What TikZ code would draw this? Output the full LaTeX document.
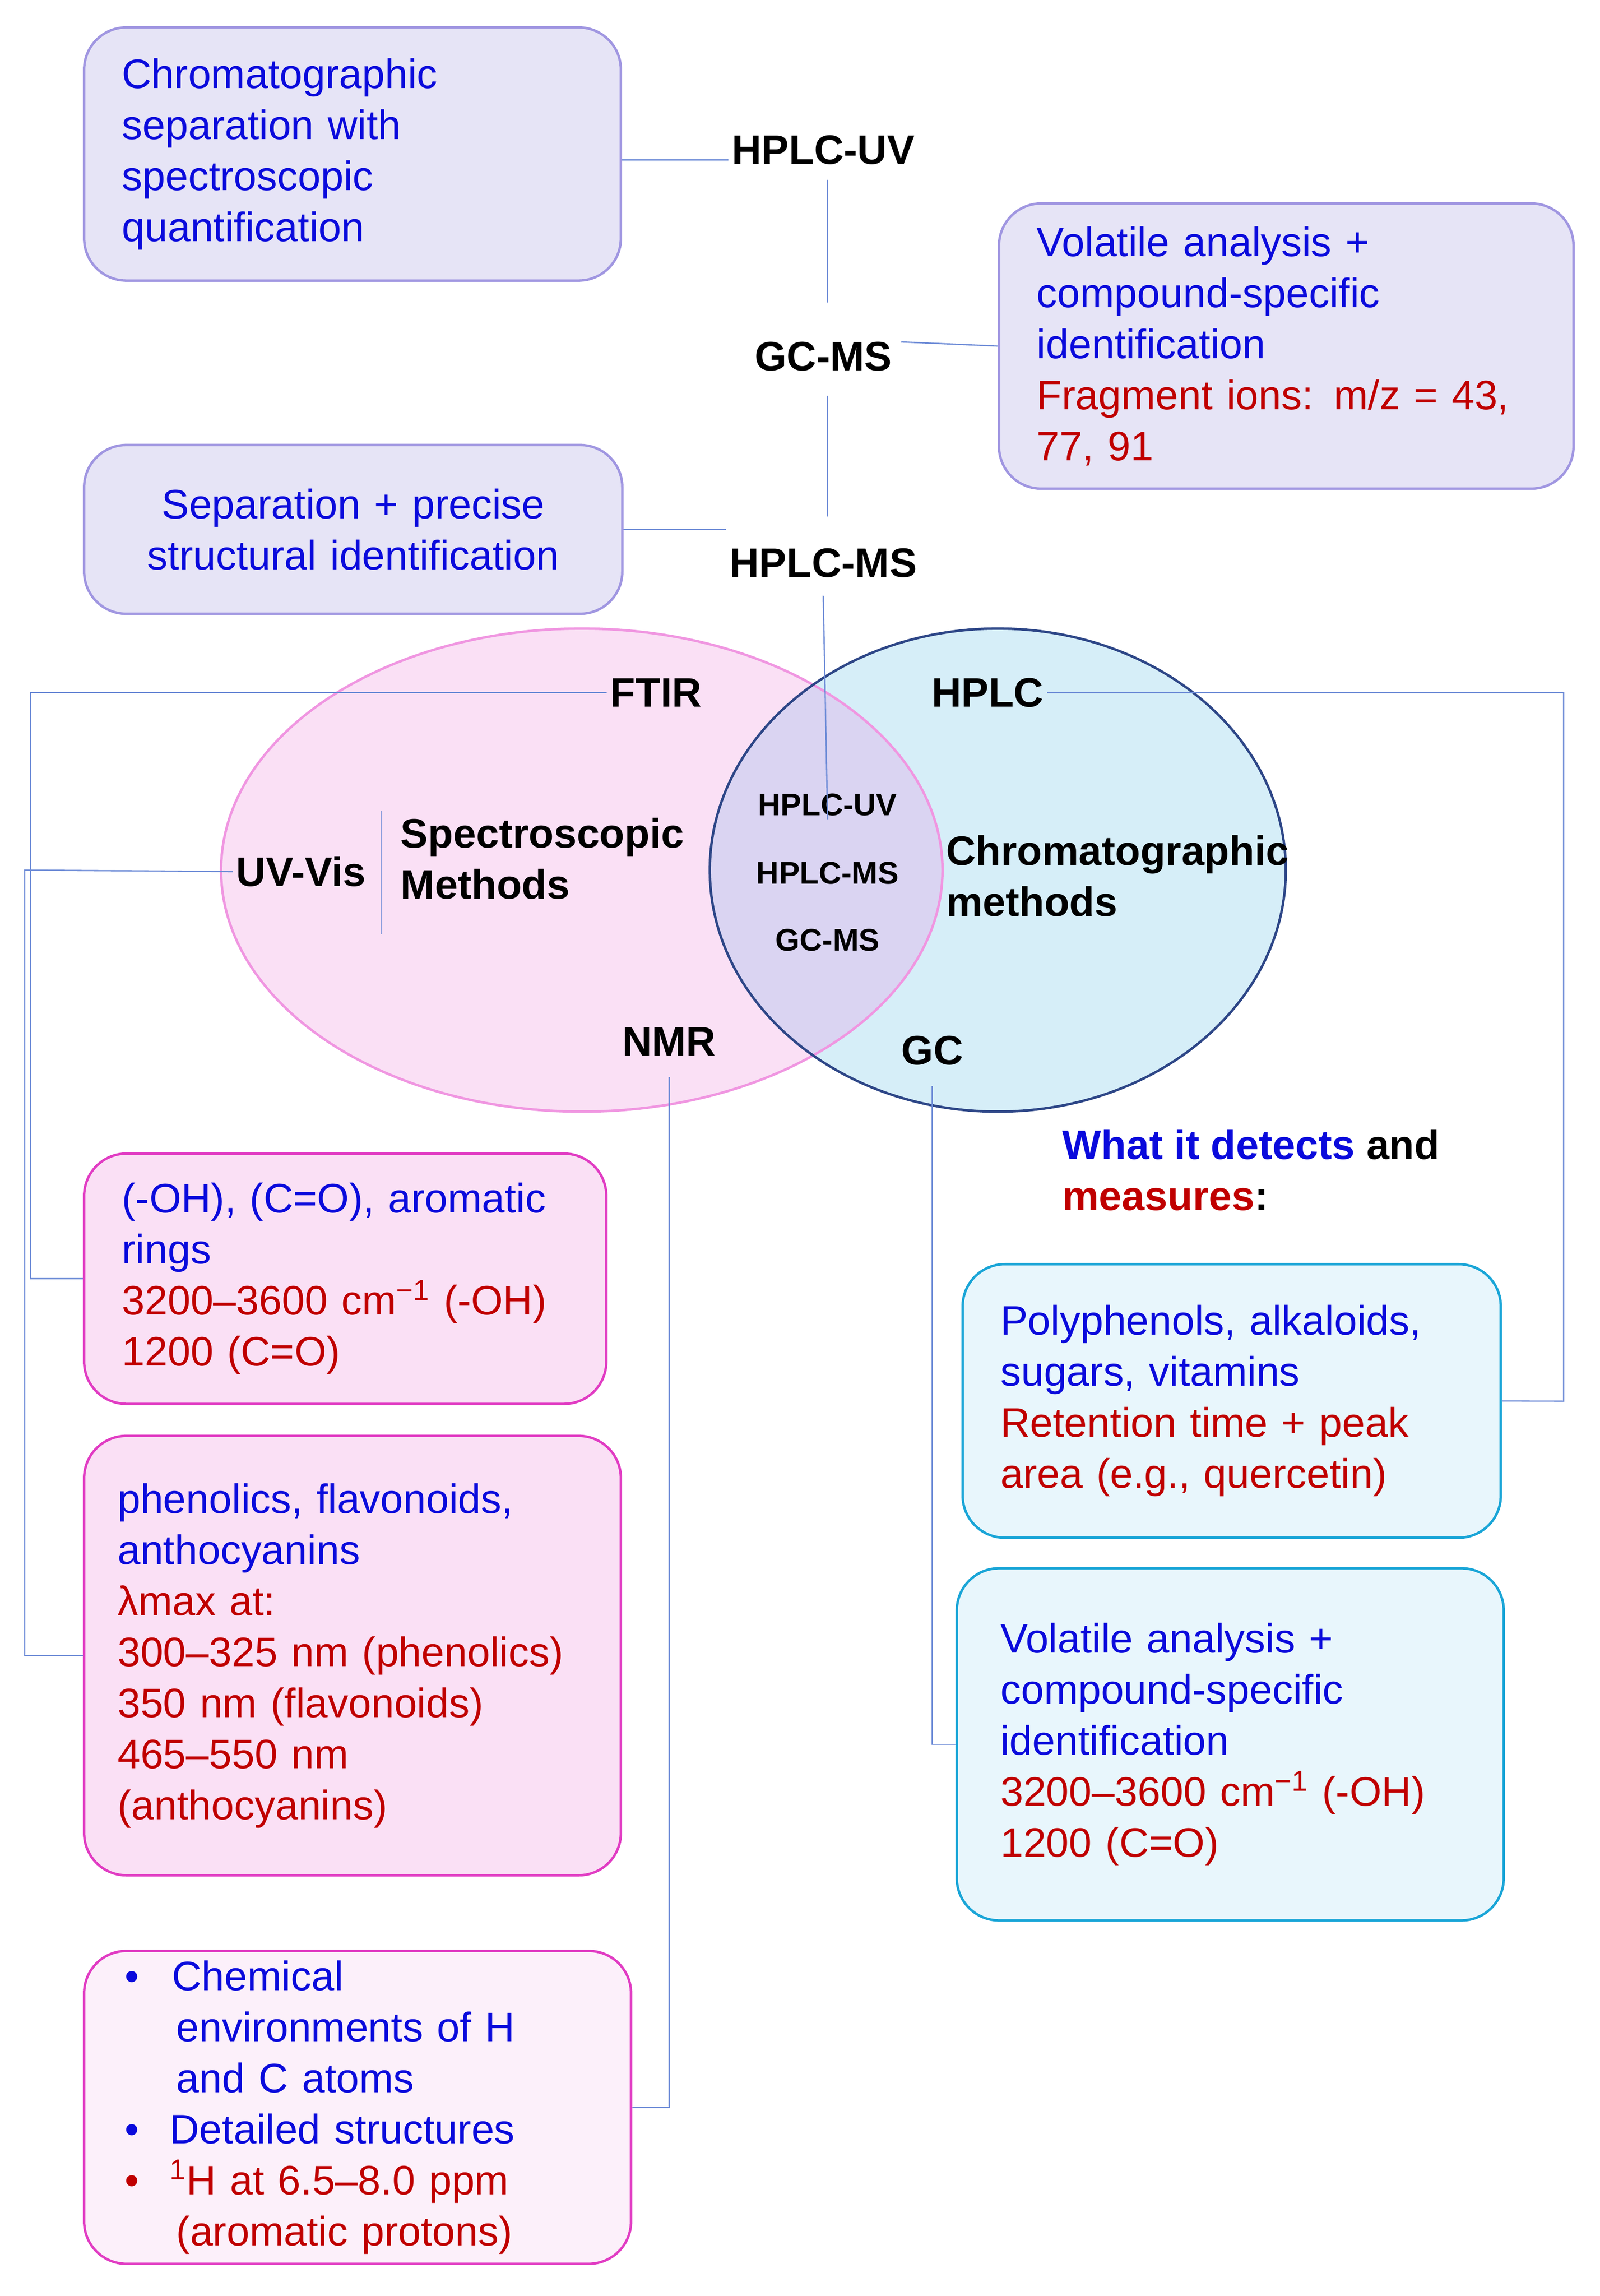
\documentclass[tikz,border=0pt]{standalone}
\usepackage{fontspec}
\setmainfont{Liberation Sans}
\definecolor{txtblue}{RGB}{10,10,220}
\definecolor{txtred}{RGB}{192,0,0}
\definecolor{lavfill}{RGB}{230,228,246}
\definecolor{lavline}{RGB}{160,150,225}
\definecolor{pinkfill}{RGB}{250,224,245}
\definecolor{pinkline}{RGB}{225,60,195}
\definecolor{pinkpale}{RGB}{252,240,250}
\definecolor{cyanfill}{RGB}{232,246,252}
\definecolor{cyanline}{RGB}{25,165,215}
\definecolor{ellpink}{RGB}{240,150,225}
\definecolor{ellblue}{RGB}{214,238,248}
\definecolor{elledge}{RGB}{45,70,135}
\definecolor{overlap}{RGB}{218,212,242}
\definecolor{wire}{RGB}{110,140,215}
\tikzset{
  box/.style={rounded corners=0.9cm, line width=1.5pt, anchor=north west, align=left,
    inner xsep=26*0.03106cm, inner ysep=0pt, font=\fontsize{25}{31}\selectfont, text=txtblue},
  lavbox/.style={box, fill=lavfill, draw=lavline},
  pinkbox/.style={box, fill=pinkfill, draw=pinkline},
  cyanbox/.style={box, fill=cyanfill, draw=cyanline},
  lbl/.style={font=\fontsize{25}{31}\selectfont\bfseries, inner sep=2pt},
  small/.style={font=\fontsize{19}{23}\selectfont\bfseries, inner sep=2pt},
  wire/.style={draw=wire, line width=0.8pt}
}
\begin{document}
\begin{tikzpicture}[x=0.03106cm, y=-0.03106cm]
\useasboundingbox (0,0) rectangle (1100,1578);
% ellipses
\fill[pinkfill] (400,598) ellipse [x radius=248, y radius=166];
\fill[ellblue] (686,598) ellipse [x radius=198, y radius=166];
\begin{scope}
  \clip (400,598) ellipse [x radius=248, y radius=166];
  \fill[overlap] (686,598) ellipse [x radius=198, y radius=166];
\end{scope}
\draw[ellpink, line width=1.5pt] (400,598) ellipse [x radius=248, y radius=166];
\draw[elledge, line width=1.5pt] (686,598) ellipse [x radius=198, y radius=166];

% top boxes
\node[lavbox, text width=317*0.03106cm, minimum height=174*0.03106cm] (sepquant) at (57,18)
  {Chromatographic\\separation with\\spectroscopic\\quantification};
\node[lavbox, text width=343*0.03106cm, minimum height=196*0.03106cm] (volid) at (686,139)
  {Volatile analysis +\\compound-specific\\identification\\\textcolor{txtred}{Fragment ions: m/z = 43,}\\\textcolor{txtred}{77, 91}};
\node[lavbox, align=center, text width=318*0.03106cm, minimum height=116*0.03106cm] (sepstruct) at (57,305)
  {Separation + precise\\structural identification};

\node[lbl] (hplcuv) at (566,103) {HPLC-UV};
\node[lbl] (gcms) at (566,245) {GC-MS};
\node[lbl] (hplcms) at (566,387) {HPLC-MS};

% venn labels
\node[lbl] (ftir) at (451,476) {FTIR};
\node[lbl] (hplc) at (679,476) {HPLC};
\node[lbl] (uvvis) at (207,599) {UV-Vis};
\node[lbl, anchor=west, align=left] (spectro) at (273,590) {Spectroscopic\\Methods};
\node[lbl, anchor=west, align=left] (chromo) at (648,602) {Chromatographic\\methods};
\node[lbl] (nmr) at (460,716) {NMR};
\node[lbl] (gc) at (641,722) {GC};
\node[small] (inuv) at (569,553) {HPLC-UV};
\node[small] (inms) at (569,600) {HPLC-MS};
\node[small] (ingc) at (569,646) {GC-MS};
\draw[wire] (262,557) -- (262,642);

\node[lbl, anchor=west, align=left] (detects) at (728,804)
  {\textcolor{txtblue}{What it detects} and\\\textcolor{txtred}{measures}:};

% lower boxes
\node[pinkbox, text width=307*0.03106cm, minimum height=172*0.03106cm] (ftirbox) at (57,792)
  {(-OH), (C=O), aromatic\\rings\\\textcolor{txtred}{3200--3600 cm\textsuperscript{−1} (-OH)}\\\textcolor{txtred}{1200 (C=O)}};
\node[pinkbox, inner xsep=23*0.03106cm, text width=323*0.03106cm, minimum height=302*0.03106cm] (uvbox) at (57,986)
  {phenolics, flavonoids,\\anthocyanins\\\color{txtred}λmax at:\\300--325 nm (phenolics)\\350 nm (flavonoids)\\465--550 nm\\(anthocyanins)};
\node[box, fill=pinkpale, draw=pinkline, inner xsep=28*0.03106cm, text width=320*0.03106cm, minimum height=215*0.03106cm] (nmrbox) at (57,1340)
  {•\hspace{0.7cm}Chemical\\\hspace{1.1cm}environments of H\\\hspace{1.1cm}and C atoms\\•\hspace{0.65cm}Detailed structures\\\color{txtred}•\hspace{0.65cm}\textsuperscript{1}H at 6.5--8.0 ppm\\\color{txtred}\hspace{1.1cm}(aromatic protons)};
\node[cyanbox, text width=318*0.03106cm, minimum height=188*0.03106cm] (hplcbox) at (661,868)
  {Polyphenols, alkaloids,\\sugars, vitamins\\\textcolor{txtred}{Retention time + peak}\\\textcolor{txtred}{area (e.g., quercetin)}};
\node[cyanbox, inner xsep=30*0.03106cm, text width=316*0.03106cm, minimum height=242*0.03106cm] (gcbox) at (657,1077)
  {Volatile analysis +\\compound-specific\\identification\\\textcolor{txtred}{3200--3600 cm\textsuperscript{−1} (-OH)}\\\textcolor{txtred}{1200 (C=O)}};

% connectors
\draw[wire] (sepquant.east |- 0,110) -- (hplcuv.west |- 0,110);
\draw[wire] (hplcuv.south -| 569,0) ++(0,8) -- (569,208);
\draw[wire] (gcms.east) ++(4,-10) -- (volid.west);
\draw[wire] (569,272) -- (569,355);
\draw[wire] (sepstruct.east) -- (hplcms.west |- sepstruct.east);
\draw[wire] (hplcms.south) ++(0,10) -- (inuv.south);
\draw[wire] (ftir.west) -- (21,476) |- (ftirbox.west);
\draw[wire] (uvvis.west) -- (17,598) |- (uvbox.west);
\draw[wire] (nmr.south) ++(0,12) |- (nmrbox.east);
\draw[wire] (hplc.east) -| (1075,963) -- (hplcbox.east);
\draw[wire] (gc.south) ++(0,12) |- (gcbox.west);
\end{tikzpicture}
\end{document}
